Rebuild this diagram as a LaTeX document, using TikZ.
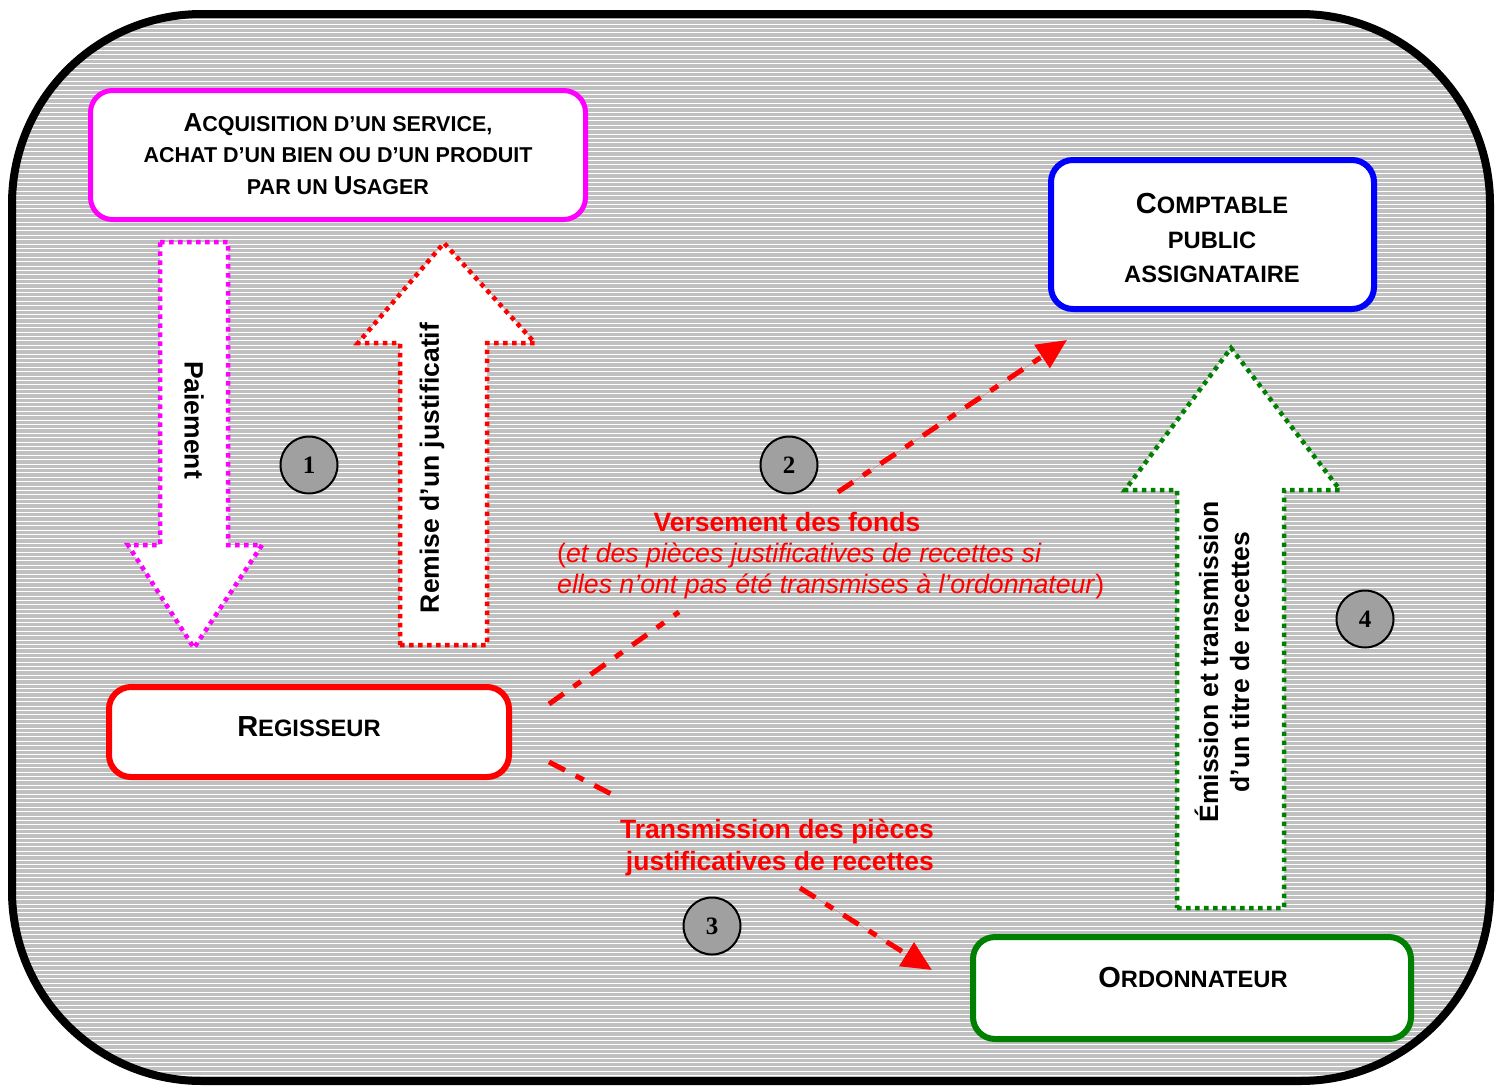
\documentclass[tikz,border=0pt]{standalone}
\usepackage{fontspec}
\setmainfont{Liberation Sans}
\newfontfamily\numfont{Liberation Serif}
\usetikzlibrary{arrows.meta}
\definecolor{bggray}{RGB}{192,192,192}
\definecolor{magc}{RGB}{255,0,255}
\definecolor{bluec}{RGB}{0,0,255}
\definecolor{greenc}{RGB}{0,128,0}
\definecolor{redc}{RGB}{255,0,0}
\definecolor{circg}{RGB}{160,160,160}
\newcommand{\Cap}[2]{{\fontsize{#1}{#1}\selectfont #2}}
\begin{document}
\begin{tikzpicture}[x=1pt,y=-1pt,
  box/.style={draw, rounded corners=22pt, fill=white, line width=6pt, inner sep=0pt},
  boxtext/.style={align=center, inner sep=0pt, font=\fontsize{23.7pt}{34.5pt}\selectfont\bfseries},
  blockarrow/.style={fill=white, line width=4.5pt, dash pattern=on 4.5pt off 4.5pt},
  arrowtext/.style={inner sep=0pt, align=center, font=\fontsize{26.5pt}{31pt}\selectfont\bfseries},
  num/.style={circle, draw, line width=2pt, fill=circg, minimum size=57pt, inner sep=0pt,
     font=\numfont\fontsize{25pt}{25pt}\selectfont\bfseries},
  flow/.style={draw=redc, line width=5pt, dash pattern=on 18pt off 12pt on 9pt off 12pt},
  flowtip/.style={-{Triangle[length=30pt,width=27pt]}},
  redtext/.style={text=redc, inner sep=0pt, font=\fontsize{26.5pt}{31pt}\selectfont\bfseries}
]
\useasboundingbox (0,0) rectangle (1502,1085);
% background
\begin{scope}
  \clip[rounded corners=190pt] (12,14) rectangle (1490,1081);
  \fill[bggray] (0,0) rectangle (1502,1085);
  \draw[white, line width=1pt] \foreach \y in {2,6.4,...,1085} {(0,\y) -- (1502,\y)};
\end{scope}
\draw[line width=8pt, rounded corners=190pt] (12,14) rectangle (1490,1081);

% boxes
\node[box, draw=magc, line width=5pt, minimum width=495pt, minimum height=129pt] (usager) at (338,155) {};
\node[boxtext, font=\fontsize{21.5pt}{31.5pt}\selectfont\bfseries] (usagert) at (338,154)
  {\Cap{26pt}{A}CQUISITION D’UN SERVICE,\\ACHAT D’UN BIEN OU D’UN PRODUIT\\PAR UN \Cap{26pt}{U}SAGER};
\node[box, draw=bluec, minimum width=323pt, minimum height=149pt] (cpt) at (1212.5,234.5) {};
\node[boxtext] (cptt) at (1212,238) {\Cap{29pt}{C}OMPTABLE\\PUBLIC\\ASSIGNATAIRE};
\node[box, draw=redc, minimum width=400pt, minimum height=90pt] (reg) at (309,732) {};
\node[boxtext] (regt) at (309,727) {\Cap{29pt}{R}EGISSEUR};
\node[box, draw=greenc, minimum width=438pt, minimum height=102pt] (ord) at (1192,988) {};
\node[boxtext] (ordt) at (1193,978) {\Cap{29pt}{O}RDONNATEUR};

% block arrows
\draw[blockarrow, draw=magc] (160,242) -- (228,242) -- (228,545) -- (262,545) -- (194,648) -- (128,545) -- (160,545) -- cycle;
\node[arrowtext, rotate=-90] (paie) at (194,420) {Paiement};
\draw[blockarrow, draw=redc] (400,645) -- (487,645) -- (487,343) -- (535,343) -- (444,243) -- (358,343) -- (400,343) -- cycle;
\node[arrowtext, rotate=90] (remise) at (432,468) {Remise d’un justificatif};
\draw[blockarrow, draw=greenc] (1177,908) -- (1284,908) -- (1284,490) -- (1340,490) -- (1231,348) -- (1125,490) -- (1177,490) -- cycle;
\node[arrowtext, rotate=90] (emis) at (1222,662) {Émission et transmission\\d’un titre de recettes};

% numbered circles
\node[num] (n1) at (309,465) {1};
\node[num] (n2) at (789,465) {2};
\node[num] (n3) at (712,926) {3};
\node[num] (n4) at (1365,619) {4};

% dashed flows
\coordinate (v0) at (549,704);
\coordinate (v1) at (679,612);
\coordinate (v2) at (838,492);
\coordinate (v3) at (1067,340);
\draw[flow] (v0) -- (v1);
\draw[flow, flowtip, fill=redc] (v2) -- (v3);
\coordinate (t0) at (549,762);
\coordinate (t1) at (617,797);
\coordinate (t2) at (800,888);
\coordinate (t3) at (932,970);
\draw[flow] (t0) -- (t1);
\draw[flow, flowtip, fill=redc] (t2) -- (t3);

% red labels
\node[redtext] (vers) at (787,522) {Versement des fonds};
\node[redtext, anchor=west, align=left, font=\fontsize{26.7pt}{31pt}\selectfont] (versb) at (557,571)
  {(\textit{et des pièces justificatives de recettes si}\\\textit{elles n’ont pas été transmises à l’ordonnateur})};
\node[redtext, anchor=east, align=right, font=\fontsize{26.5pt}{32pt}\selectfont\bfseries] (trans) at (934,848)
  {Transmission des pièces\\justificatives de recettes};
\end{tikzpicture}
\end{document}
